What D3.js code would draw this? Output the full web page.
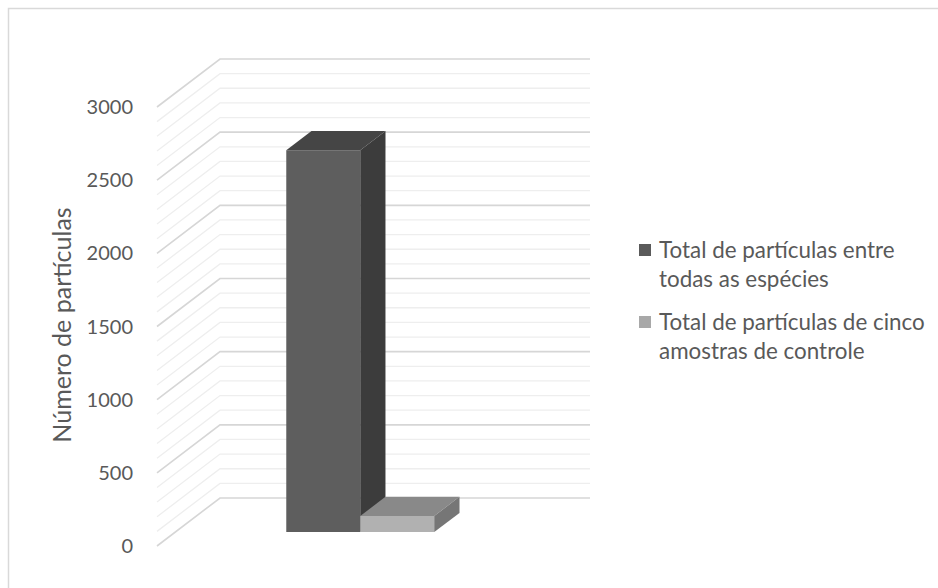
<!DOCTYPE html>
<html>
<head>
<meta charset="utf-8">
<script src="https://cdn.jsdelivr.net/npm/d3@7"></script>
<style>
  html, body { margin: 0; padding: 0; background: #fff; }
  svg { display: block; }
  text { font-family: Lato, "Open Sans", sans-serif; fill: #595959; }
</style>
</head>
<body>
<svg id="chart" width="938" height="588"></svg>
<script>
// Data
const categories = [""];
const seriesNames = [
  "Total de partículas entre todas as espécies",
  "Total de partículas de cinco amostras de controle"
];
const legendLines = [
  ["Total de partículas entre", "todas as espécies"],
  ["Total de partículas de cinco", "amostras de controle"]
];
const seriesValues = [2610, 110];
const yTicks = [0, 500, 1000, 1500, 2000, 2500, 3000];
const yTitle = "Número de partículas";

// Palette per series: front, top, side, legend swatch
const palette = [
  { front: "#5e5e5e", top: "#454545", side: "#3c3c3c", swatch: "#5a5a5a" },
  { front: "#b1b1b1", top: "#898989", side: "#767676", swatch: "#a8a8a8" }
];

const svg = d3.select("#chart");

// Outer chart frame
svg.append("rect")
  .attr("x", 8.5).attr("y", 8.5)
  .attr("width", 960).attr("height", 620)
  .attr("fill", "none").attr("stroke", "#d9d9d9").attr("stroke-width", 1.5);

// 3D floor geometry: front plane x range and depth vector
const frontLeft = 157, frontRight = 527;
const depth = { dx: 63, dy: -48 };
const frontBase = 546, frontTop = 107;

const y = d3.scaleLinear().domain([0, 3000]).range([frontBase, frontTop]);
const proj = (px, py, z) => [px + depth.dx * z, py + depth.dy * z];

// Gridlines: minor every 100, major every 500 (side wall + back wall)
const gridVals = d3.range(0, 3001, 100);
const grid = svg.append("g");
gridVals.forEach(v => {
  const major = v % 500 === 0;
  const a = proj(frontLeft, y(v), 0);
  const b = proj(frontLeft, y(v), 1);
  const c = proj(frontRight, y(v), 1);
  grid.append("path")
    .attr("d", `M${a[0]},${a[1]}L${b[0]},${b[1]}L${c[0]},${c[1]}`)
    .attr("fill", "none")
    .attr("stroke", major ? "#d6d6d6" : "#eeeeee")
    .attr("stroke-width", major ? 1.6 : 1.3);
});

// Y tick labels
svg.append("g").selectAll("text").data(yTicks).join("text")
  .attr("x", 133).attr("y", d => y(d))
  .attr("dy", "0.35em")
  .attr("text-anchor", "end")
  .style("font-size", "20px")
  .text(d => d);

// Y axis title
svg.append("text")
  .attr("transform", `translate(62,325) rotate(-90)`)
  .attr("dy", "0.35em")
  .attr("text-anchor", "middle")
  .style("font-size", "25px")
  .text(yTitle);

// Bars
const x0 = d3.scaleBand().domain(categories).range([frontLeft, frontRight])
  .paddingInner(0).paddingOuter(0.75);
const x1 = d3.scaleBand().domain(seriesNames).range([0, x0.bandwidth()]);
const zFront = 0.29, zBack = 0.69;

const bars = svg.append("g");
categories.forEach(cat => {
  seriesNames.forEach((s, i) => {
    const v = seriesValues[i];
    const xl = x0(cat) + x1(s), xr = xl + x1.bandwidth();
    const h = y(0) - y(v);
    const base = y(0);
    const fbl = proj(xl, base, zFront), fbr = proj(xr, base, zFront);
    const ftl = proj(xl, base - h, zFront), ftr = proj(xr, base - h, zFront);
    const btl = proj(xl, base - h, zBack), btr = proj(xr, base - h, zBack);
    const bbr = proj(xr, base, zBack);
    const poly = pts => "M" + pts.map(p => p.join(",")).join("L") + "Z";
    bars.append("path").attr("d", poly([fbl, fbr, ftr, ftl])).attr("fill", palette[i].front);
    bars.append("path").attr("d", poly([ftl, ftr, btr, btl])).attr("fill", palette[i].top);
    bars.append("path").attr("d", poly([fbr, bbr, btr, ftr])).attr("fill", palette[i].side);
  });
});

// Legend
const legend = svg.append("g");
const legendTop = [250, 322];
seriesNames.forEach((s, i) => {
  const g = legend.append("g");
  g.append("rect")
    .attr("x", 639).attr("y", legendTop[i] - 6)
    .attr("width", 12).attr("height", 12)
    .attr("fill", palette[i].swatch);
  legendLines[i].forEach((line, j) => {
    g.append("text")
      .attr("x", 659).attr("y", legendTop[i] + j * 29)
      .attr("dy", "0.35em")
      .style("font-size", "22.4px")
      .text(line);
  });
});
</script>
</body>
</html>
